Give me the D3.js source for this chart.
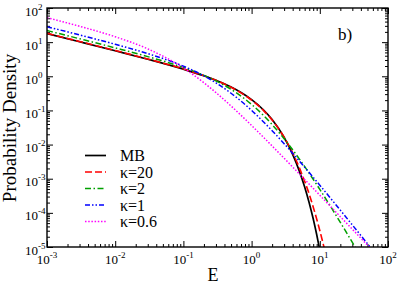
<!DOCTYPE html>
<html>
<head>
<meta charset="utf-8">
<script src="https://cdn.jsdelivr.net/npm/d3@7"></script>
<style>
  body { margin: 0; background: #fff; }
  svg { display: block; }
  text { font-family: "Liberation Serif", "DejaVu Serif", serif; fill: #000; }
</style>
</head>
<body>
<svg id="chart" width="399" height="284"></svg>
<script>
// values (E, probability density)
const mbE   = [0.001, 0.003, 0.01, 0.03, 0.1, 0.2, 0.3, 0.5, 0.7, 1, 1.5, 2, 3, 4, 5, 6, 7, 8, 9, 10];
const mbF   = [17.82, 10.27, 5.586, 3.161, 1.614, 1.033, 0.7631, 0.4839, 0.3349, 0.2076, 0.1028, 0.05399,
               0.01622, 0.005167, 0.0017, 5.709e-4, 1.945e-4, 6.69e-5, 2.32e-5, 8.1e-6];

const k20E  = [0.001, 0.003, 0.01, 0.03, 0.1, 0.2, 0.3, 0.5, 0.7, 1, 1.5, 2, 3, 4, 5, 6, 7, 8, 9, 10, 11, 12];
const k20F  = [18.16, 10.46, 5.688, 3.214, 1.633, 1.038, 0.7618, 0.4778, 0.3277, 0.2012, 0.099, 0.05232,
               0.01644, 0.005714, 0.00213, 8.39e-4, 3.508e-4, 1.489e-4, 6.63e-5, 3.04e-5, 1.443e-5, 7.02e-6];

const k2E   = [0.001, 0.003, 0.01, 0.03, 0.1, 0.2, 0.3, 0.5, 0.7, 1, 1.5, 2, 3, 4, 5, 7, 10, 15, 20, 30, 35];
const k2F   = [21.87, 12.58, 6.794, 3.771, 1.806, 1.065, 0.7323, 0.4135, 0.2626, 0.1497, 0.07074, 0.03858,
               0.01482, 0.00703, 0.003809, 0.00144, 4.864e-4, 1.345e-4, 5.26e-5, 1.366e-5, 8.13e-6];

const k1E   = [0.001, 0.003, 0.01, 0.03, 0.1, 0.2, 0.3, 0.5, 0.7, 1, 1.5, 2, 3, 4, 5, 7, 10, 15, 20, 30, 50, 70];
const k1F   = [28.36, 16.24, 8.654, 4.626, 1.977, 1.027, 0.6421, 0.3183, 0.1868, 0.1, 0.04594, 0.02547,
               0.01061, 0.005558, 0.003328, 0.001512, 6.456e-4, 2.419e-4, 1.198e-4, 4.417e-5, 1.248e-5, 5.41e-6];

const k06E  = [0.001, 0.003, 0.01, 0.03, 0.1, 0.2, 0.3, 0.5, 0.7, 1, 1.5, 2, 3, 4, 5, 7, 10, 15, 20, 30, 50, 70];
const k06F  = [52.15, 29.18, 14.39, 6.358, 1.748, 0.6462, 0.3329, 0.1348, 0.07189, 0.03615, 0.01621, 0.009082,
               0.003976, 0.002202, 0.001389, 6.91e-4, 3.292e-4, 1.412e-4, 7.74e-5, 3.311e-5, 1.135e-5, 5.6e-6];

const legendLabels = ["MB", "κ=20", "κ=2", "κ=1", "κ=0.6"];
const xTickExp = [-3, -2, -1, 0, 1, 2];
const yTickExp = [-5, -4, -3, -2, -1, 0, 1, 2];

const series = [
  {e: mbE,  f: mbF,  color: "#000000", dash: null,                 width: 1.7},
  {e: k20E, f: k20F, color: "#ff0000", dash: "7,3",                width: 1.6},
  {e: k2E,  f: k2F,  color: "#00a000", dash: "6,2.5,1.5,2.5",      width: 1.5},
  {e: k1E,  f: k1F,  color: "#0000ff", dash: "5,2,1.5,2,1.5,2",    width: 1.5},
  {e: k06E, f: k06F, color: "#ff00ff", dash: "1.5,1.7",            width: 1.5}
];

const L = 47, R = 388, T = 8, B = 247;
const svg = d3.select("#chart");

const x = d3.scaleLog().domain([1e-3, 1e2]).range([L, R]);
const y = d3.scaleLog().domain([1e-5, 1e2]).range([B, T]);

const majX = xTickExp.map(p => Math.pow(10, p));
const majY = yTickExp.map(p => Math.pow(10, p));
const minX = [], minY = [];
xTickExp.slice(0, -1).forEach(p => { for (let k = 2; k < 10; k++) minX.push(k * Math.pow(10, p)); });
yTickExp.slice(0, -1).forEach(p => { for (let k = 2; k < 10; k++) minY.push(k * Math.pow(10, p)); });

function addAxis(axisFn, scale, values, size, tx, ty) {
  const g = svg.append("g")
    .attr("transform", "translate(" + tx + "," + ty + ")")
    .call(axisFn(scale).tickValues(values).tickSize(-size).tickSizeOuter(0).tickFormat(""));
  g.select(".domain").remove();
  g.selectAll(".tick line").attr("stroke", "#000").attr("stroke-width", 1);
}

// inward ticks on all four sides
addAxis(d3.axisBottom, x, majX, 6, 0, B);
addAxis(d3.axisBottom, x, minX, 3, 0, B);
addAxis(d3.axisTop, x, majX, 6, 0, T);
addAxis(d3.axisTop, x, minX, 3, 0, T);
addAxis(d3.axisLeft, y, majY, 6, L, 0);
addAxis(d3.axisLeft, y, minY, 3, L, 0);
addAxis(d3.axisRight, y, majY, 6, R, 0);
addAxis(d3.axisRight, y, minY, 3, R, 0);

// curves
svg.append("clipPath").attr("id", "plotclip")
  .append("rect").attr("x", L).attr("y", T).attr("width", R - L).attr("height", B - T);

const line = d3.line()
  .x(d => x(d[0]))
  .y(d => y(d[1]))
  .curve(d3.curveMonotoneX);

const curves = svg.append("g").attr("clip-path", "url(#plotclip)");
series.forEach(s => {
  curves.append("path")
    .datum(s.e.map((e, i) => [e, s.f[i]]))
    .attr("d", line)
    .attr("fill", "none")
    .attr("stroke", s.color)
    .attr("stroke-width", s.width)
    .attr("stroke-dasharray", s.dash);
});

// frame
svg.append("rect")
  .attr("x", L).attr("y", T).attr("width", R - L).attr("height", B - T)
  .attr("fill", "none").attr("stroke", "#000").attr("stroke-width", 1.4);

// tick labels
xTickExp.forEach(p => {
  const t = svg.append("text")
    .attr("x", x(Math.pow(10, p)))
    .attr("y", 264)
    .attr("text-anchor", "middle")
    .style("font-size", "13px");
  t.append("tspan").text("10");
  t.append("tspan").attr("dy", -6).style("font-size", "9px").text(p);
});

yTickExp.forEach(p => {
  const t = svg.append("text")
    .attr("x", 25)
    .attr("y", y(Math.pow(10, p)) + 7.5)
    .style("font-size", "13px");
  t.append("tspan").text("10");
  t.append("tspan").attr("dy", -6).style("font-size", "9px").text(p);
});

// axis titles
svg.append("text")
  .attr("x", 213).attr("y", 281)
  .attr("text-anchor", "middle")
  .style("font-size", "18px")
  .text("E");

svg.append("text")
  .attr("transform", "translate(16,128) rotate(-90)")
  .attr("text-anchor", "middle")
  .style("font-size", "19px")
  .text("Probability Density");

svg.append("text")
  .attr("x", 338).attr("y", 40)
  .style("font-size", "17px")
  .text("b)");

// legend
const rowY = [155.5, 172, 188.5, 205, 221.5];
const legend = svg.append("g");
series.forEach((s, i) => {
  legend.append("line")
    .attr("x1", 85).attr("x2", 106)
    .attr("y1", rowY[i]).attr("y2", rowY[i])
    .attr("stroke", s.color)
    .attr("stroke-width", s.width)
    .attr("stroke-dasharray", s.dash);
  legend.append("text")
    .attr("x", 120).attr("y", rowY[i] + 5.5)
    .style("font-size", "16px")
    .text(legendLabels[i]);
});
</script>
</body>
</html>
